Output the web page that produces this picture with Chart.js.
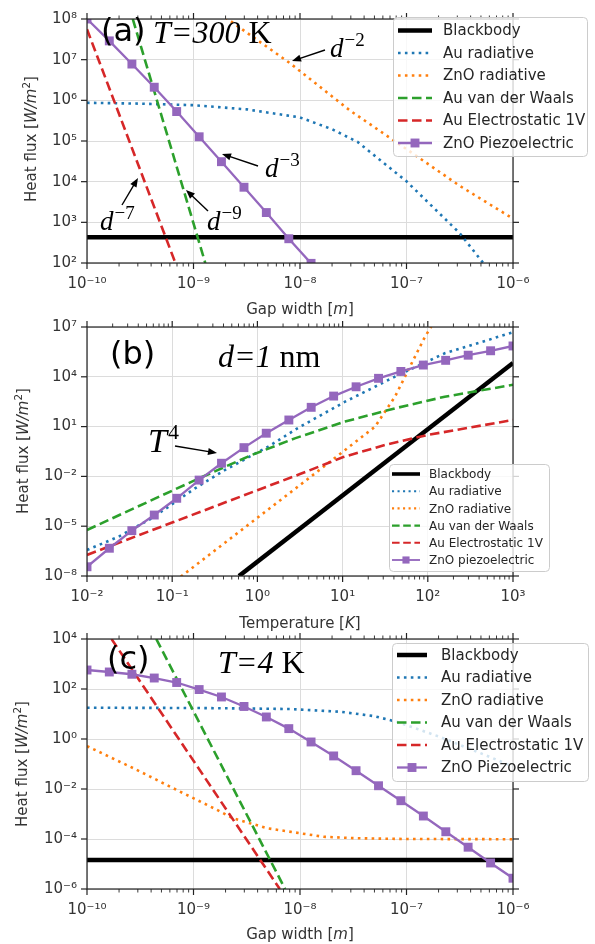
<!DOCTYPE html>
<html>
<head>
<meta charset="utf-8">
<script src="https://cdn.jsdelivr.net/npm/chart.js@4.4.1/dist/chart.umd.min.js"></script>
<style>
  html, body { margin: 0; padding: 0; background: #fff; }
  #wrap { position: relative; width: 595px; height: 944px; }
  canvas { position: absolute; left: 0; top: 0; }
</style>
</head>
<body>
<div id="wrap">
  <canvas id="chart-a" width="595" height="944"></canvas>
  <canvas id="chart-b" width="595" height="944"></canvas>
  <canvas id="chart-c" width="595" height="944"></canvas>
</div>
<script>
// legend entries
const seriesLabels = ['Blackbody', 'Au radiative', 'ZnO radiative', 'Au van der Waals', 'Au Electrostatic 1V', 'ZnO Piezoelectric'];
const seriesLabelsB = ['Blackbody', 'Au radiative', 'ZnO radiative', 'Au van der Waals', 'Au Electrostatic 1V', 'ZnO piezoelectric'];

// shared axes
const gapTicks = [1e-10, 1e-9, 1e-8, 1e-7, 1e-6];
const gapTickLabels = ['10⁻¹⁰', '10⁻⁹', '10⁻⁸', '10⁻⁷', '10⁻⁶'];
const tempTicks = [1e-2, 1e-1, 1, 10, 100, 1000];
const tempTickLabels = ['10⁻²', '10⁻¹', '10⁰', '10¹', '10²', '10³'];

// gap widths / temperatures of the piezoelectric markers
const gapMarks = [1.0e-10, 1.62e-10, 2.64e-10, 4.28e-10, 6.95e-10, 1.13e-9, 1.83e-9, 2.98e-9, 4.83e-9, 7.85e-9,
                  1.27e-8, 2.07e-8, 3.36e-8, 5.46e-8, 8.86e-8, 1.44e-7, 2.34e-7, 3.79e-7, 6.16e-7, 1.0e-6];
const tempMarks = [0.01, 0.0183, 0.0336, 0.0616, 0.113, 0.207, 0.379, 0.695, 1.27, 2.34,
                   4.28, 7.85, 14.4, 26.4, 48.3, 88.6, 162, 298, 546, 1000];

// ---- (a) T = 300 K ----
const aFluxTicks = [1e2, 1e3, 1e4, 1e5, 1e6, 1e7, 1e8];
const aFluxTickLabels = ['10²', '10³', '10⁴', '10⁵', '10⁶', '10⁷', '10⁸'];
const aBlackbodyX = [1e-10, 1e-6];
const aBlackbodyY = [430, 430];
const aAuRadX = [1e-10, 3.16e-10, 1e-9, 3.16e-9, 1e-8, 2e-8, 3.47e-8, 1e-7, 3.16e-7, 5.25e-7, 6.3e-7];
const aAuRadY = [8.7e5, 8.3e5, 7.6e5, 6.0e5, 3.8e5, 1.95e5, 9.5e4, 1.02e4, 540, 100, 50];
const aZnoRadX = [1.58e-9, 2.09e-9, 8.1e-9, 2.95e-8, 1e-7, 3.16e-7, 1e-6];
const aZnoRadY = [1.8e8, 1e8, 8.1e6, 5.6e5, 6.3e4, 7.9e3, 1.23e3];
const aVdwX = [2.69e-10, 1.29e-9];
const aVdwY = [1e8, 100];
const aElecX = [1e-10, 6.76e-10];
const aElecY = [5.6e7, 100];
const aPiezoY = [1e8, 2.9e7, 7.8e6, 2.1e6, 5.3e5, 1.27e5, 3.1e4, 7.3e3, 1.74e3, 395, 98, 23];

// ---- (b) d = 1 nm ----
const bFluxTicks = [1e-8, 1e-5, 1e-2, 1e1, 1e4, 1e7];
const bFluxTickLabels = ['10⁻⁸', '10⁻⁵', '10⁻²', '10¹', '10⁴', '10⁷'];
const bBlackbodyX = [0.608, 1000];
const bBlackbodyY = [1e-8, 6.8e4];
const bAuRadX = [0.01, 0.0233, 0.0575, 0.185, 0.417, 1.34, 2.95, 10.7, 41.2, 158, 1000];
const bAuRadY = [3.7e-7, 2.3e-6, 3.0e-5, 1.9e-3, 0.0245, 0.62, 7.9, 316, 1.02e4, 2.6e5, 4.8e6];
const bZnoRadX = [0.126, 3.16, 10.7, 24, 41.2, 64.6, 92.7, 112];
const bZnoRadY = [9.1e-9, 3.0e-3, 0.39, 9.8, 631, 6.5e4, 2.6e6, 1.26e7];
const bVdwX = [0.01, 0.186, 0.857, 2.75, 10.7, 41.2, 158, 1000];
const bVdwY = [5.9e-6, 6.0e-3, 0.195, 1.95, 20, 126, 630, 3300];
const bElecX = [0.01, 0.1, 1, 3.16, 10, 31.6, 100, 1000];
const bElecY = [1.86e-7, 1.66e-5, 1.48e-3, 0.0138, 0.141, 0.79, 3.16, 25];
const bPiezoY = [3.6e-8, 4.7e-7, 5.4e-6, 4.7e-5, 4.8e-4, 6.0e-3, 0.062, 0.54, 4.0, 25,
                 145, 690, 2500, 8100, 2.1e4, 5.1e4, 9.8e4, 2.0e5, 3.7e5, 7.2e5];

// ---- (c) T = 4 K ----
const cFluxTicks = [1e-6, 1e-4, 1e-2, 1, 1e2, 1e4];
const cFluxTickLabels = ['10⁻⁶', '10⁻⁴', '10⁻²', '10⁰', '10²', '10⁴'];
const cBlackbodyX = [1e-10, 1e-6];
const cBlackbodyY = [1.45e-5, 1.45e-5];
const cAuRadX = [1e-10, 1e-9, 3.16e-9, 8.1e-9, 2.4e-8, 4.9e-8, 8.1e-8, 2.04e-7, 6.0e-7, 1e-6];
const cAuRadY = [17.8, 17.4, 16.6, 15.8, 12.3, 8.3, 4.9, 1.23, 0.195, 0.079];
const cZnoRadX = [1e-10, 2.72e-10, 7.46e-10, 1.55e-9, 2.34e-9, 4.9e-9, 1e-8, 1.66e-8, 3.4e-8, 1e-7, 1e-6];
const cZnoRadY = [0.52, 0.068, 7.9e-3, 1.7e-3, 6.8e-4, 2.7e-4, 1.7e-4, 1.23e-4, 1.07e-4, 1.0e-4, 9.8e-5];
const cVdwX = [4.47e-10, 7.24e-9];
const cVdwY = [1e4, 1e-6];
const cElecX = [1.7e-10, 6.46e-9];
const cElecY = [1e4, 1e-6];
const cPiezoY = [575, 479, 389, 275, 182, 95, 48, 20, 7.6, 2.6,
                 0.76, 0.21, 0.054, 0.0135, 0.0034, 8.3e-4, 1.95e-4, 4.7e-5, 1.1e-5, 2.7e-6];

const SANS = 'DejaVu Sans';
const SERIF = 'Liberation Serif';

const lineStyles = [
    { borderColor: '#000000', borderWidth: 4.5, pointRadius: 0 },
    { borderColor: '#1f77b4', borderWidth: 2.6, borderDash: [2.6, 4.3], pointRadius: 0 },
    { borderColor: '#ff7f0e', borderWidth: 2.6, borderDash: [2.6, 4.3], pointRadius: 0 },
    { borderColor: '#2ca02c', borderWidth: 2.6, borderDash: [9.5, 4.5], pointRadius: 0 },
    { borderColor: '#d62728', borderWidth: 2.6, borderDash: [9.5, 4.5], pointRadius: 0 },
    { borderColor: '#9467bd', borderWidth: 2.3, pointStyle: 'rect', pointRadius: 6.3,
      pointBackgroundColor: '#9467bd', pointBorderColor: '#9467bd', pointBorderWidth: 0 }
];

function makeSeries(labels, pairs) {
    return pairs.map(([xs, ys], i) => ({
        label: labels[i],
        data: xs.map((x, k) => ({ x: x, y: ys[k] })),
        tension: 0,
        fill: false,
        clip: 0,
        order: 10 - i,
        ...lineStyles[i]
    }));
}

// draw a run of text pieces with different fonts
function drawParts(ctx, parts, x, y, align) {
    let total = 0;
    parts.forEach(p => { ctx.font = p.font; total += ctx.measureText(p.t).width + (p.gap || 0); });
    let cx = align === 'center' ? x - total / 2 : x;
    parts.forEach(p => {
        ctx.font = p.font;
        ctx.fillText(p.t, cx, y + (p.dy || 0));
        cx += ctx.measureText(p.t).width + (p.gap || 0);
    });
}

const framePlugin = {
    id: 'frame',
    afterDatasetsDraw(chart) {
        const { ctx, chartArea: a, scales } = chart;
        const xs = scales.x, ys = scales.y;
        ctx.save();
        ctx.strokeStyle = '#222';
        ctx.lineWidth = 1.2;
        ctx.setLineDash([]);
        ctx.strokeRect(a.left, a.top, a.right - a.left, a.bottom - a.top);
        const seg = (x1, y1, x2, y2) => { ctx.beginPath(); ctx.moveTo(x1, y1); ctx.lineTo(x2, y2); ctx.stroke(); };
        xs.ticks.forEach(t => {
            const p = xs.getPixelForValue(t.value);
            seg(p, a.bottom, p, a.bottom + 6);
            seg(p, a.top, p, a.top - 6);
        });
        ys.ticks.forEach(t => {
            const p = ys.getPixelForValue(t.value);
            seg(a.left, p, a.left - 6, p);
            seg(a.right, p, a.right + 6, p);
        });
        ctx.lineWidth = 0.9;
        const lo = Math.round(Math.log10(xs.min)), hi = Math.round(Math.log10(xs.max));
        for (let d = lo; d < hi; d++) {
            for (let m = 2; m <= 9; m++) {
                const p = xs.getPixelForValue(m * Math.pow(10, d));
                seg(p, a.bottom, p, a.bottom + 3.5);
                seg(p, a.top, p, a.top - 3.5);
            }
        }
        ctx.restore();
    }
};

const notesPlugin = {
    id: 'notes',
    afterDraw(chart, args, opts) {
        const ctx = chart.ctx;
        ctx.save();
        ctx.fillStyle = '#000';
        ctx.textBaseline = 'alphabetic';
        ctx.textAlign = 'left';
        (opts.texts || []).forEach(n => drawParts(ctx, n.parts, n.x, n.y, 'left'));
        (opts.arrows || []).forEach(([x1, y1, x2, y2]) => {
            const ang = Math.atan2(y2 - y1, x2 - x1);
            const hl = 9, hw = 3.6;
            ctx.strokeStyle = '#000';
            ctx.lineWidth = 1.4;
            ctx.beginPath();
            ctx.moveTo(x1, y1);
            ctx.lineTo(x2 - hl * 0.6 * Math.cos(ang), y2 - hl * 0.6 * Math.sin(ang));
            ctx.stroke();
            ctx.beginPath();
            ctx.moveTo(x2, y2);
            ctx.lineTo(x2 - hl * Math.cos(ang) + hw * Math.sin(ang), y2 - hl * Math.sin(ang) - hw * Math.cos(ang));
            ctx.lineTo(x2 - hl * Math.cos(ang) - hw * Math.sin(ang), y2 - hl * Math.sin(ang) + hw * Math.cos(ang));
            ctx.closePath();
            ctx.fill();
        });
        // axis titles
        ctx.fillStyle = '#333';
        if (opts.xTitle) drawParts(ctx, opts.xTitle.parts, opts.xTitle.x, opts.xTitle.y, 'center');
        if (opts.yTitle) {
            ctx.save();
            ctx.translate(opts.yTitle.x, opts.yTitle.y);
            ctx.rotate(-Math.PI / 2);
            drawParts(ctx, opts.yTitle.parts, 0, 0, 'center');
            ctx.restore();
        }
        ctx.restore();
    }
};

const boxLegendPlugin = {
    id: 'boxLegend',
    afterDraw(chart, args, opts) {
        const ctx = chart.ctx;
        const b = opts.box;
        ctx.save();
        ctx.fillStyle = 'rgba(255,255,255,0.8)';
        ctx.strokeStyle = '#cccccc';
        ctx.lineWidth = 1;
        ctx.beginPath();
        ctx.roundRect(b.x + 0.5, b.y + 0.5, b.w, b.h, 4);
        ctx.fill();
        ctx.stroke();
        ctx.font = opts.font;
        ctx.textBaseline = 'middle';
        ctx.textAlign = 'left';
        chart.data.datasets.forEach((ds, i) => {
            const yy = opts.rowY0 + i * opts.rowGap;
            const s = opts.scale;
            ctx.strokeStyle = ds.borderColor;
            ctx.lineWidth = ds.borderWidth * s;
            ctx.setLineDash((ds.borderDash || []).map(v => v * s));
            ctx.beginPath();
            ctx.moveTo(opts.lineX0, yy);
            ctx.lineTo(opts.lineX1, yy);
            ctx.stroke();
            if (ds.pointStyle === 'rect') {
                const side = ds.pointRadius * 1.414 * s;
                ctx.fillStyle = ds.pointBackgroundColor;
                ctx.fillRect((opts.lineX0 + opts.lineX1) / 2 - side / 2, yy - side / 2, side, side);
            }
            ctx.fillStyle = '#262626';
            ctx.fillText(ds.label, opts.textX, yy + 1);
        });
        ctx.restore();
    }
};

function makeScale(ticks, labels, min, max, fixed, isX, padding) {
    return {
        type: 'logarithmic',
        min: min,
        max: max,
        bounds: 'data',
        afterBuildTicks: s => { s.ticks = ticks.map(v => ({ value: v })); },
        afterFit: s => { if (isX) s.height = fixed; else s.width = fixed; },
        grid: { color: '#dcdcdc', lineWidth: 1, drawTicks: false },
        border: { display: false },
        ticks: {
            autoSkip: false, maxRotation: 0, minRotation: 0, padding: padding,
            color: '#333', font: { family: SANS, size: 15 },
            callback: (v, i) => labels[i]
        }
    };
}

function makeChart(id, area, xScale, yScale, datasets, plugins) {
    return new Chart(document.getElementById(id), {
        type: 'line',
        data: { datasets: datasets },
        options: {
            responsive: false,
            animation: false,
            events: [],
            layout: { padding: { left: 0, right: 595 - area.right, top: area.top, bottom: 944 - area.bottom - 40 } },
            plugins: { legend: { display: false }, tooltip: { enabled: false }, ...plugins },
            scales: { x: xScale, y: yScale }
        },
        plugins: [framePlugin, notesPlugin, boxLegendPlugin]
    });
}

const yTitleParts = [
    { t: 'Heat flux [', font: `15px ${SANS}` },
    { t: 'W/m', font: `italic 15px ${SANS}` },
    { t: '2', font: `10.5px ${SANS}`, dy: -6 },
    { t: ']', font: `15px ${SANS}` }
];
const gapTitleParts = [
    { t: 'Gap width [', font: `15px ${SANS}` },
    { t: 'm', font: `italic 15px ${SANS}` },
    { t: ']', font: `15px ${SANS}` }
];
const tempTitleParts = [
    { t: 'Temperature [', font: `15px ${SANS}` },
    { t: 'K', font: `italic 15px ${SANS}` },
    { t: ']', font: `15px ${SANS}` }
];
const dPower = (x, y, sup) => ({
    x: x, y: y,
    parts: [
        { t: 'd', font: `italic 27px ${SERIF}`, gap: 1 },
        { t: sup, font: `19px ${SERIF}`, dy: -11 }
    ]
});

// panel (a)
makeChart('chart-a', { top: 15, bottom: 263, right: 513 },
    makeScale(gapTicks, gapTickLabels, 1e-10, 1e-6, 40, true, 12),
    makeScale(aFluxTicks, aFluxTickLabels, 1e2, 1e8, 87, false, 10),
    makeSeries(seriesLabels, [
        [aBlackbodyX, aBlackbodyY], [aAuRadX, aAuRadY], [aZnoRadX, aZnoRadY],
        [aVdwX, aVdwY], [aElecX, aElecY], [gapMarks.slice(0, aPiezoY.length), aPiezoY]
    ]),
    {
        notes: {
            texts: [
                { x: 101, y: 41, parts: [{ t: '(a)', font: `32px ${SANS}` }] },
                { x: 153, y: 43, parts: [{ t: 'T=300', font: `italic 32px ${SERIF}` }, { t: ' K', font: `32px ${SERIF}` }] },
                dPower(330, 57, '−2'),
                dPower(265, 177, '−3'),
                dPower(100, 230, '−7'),
                dPower(207, 230, '−9')
            ],
            arrows: [[325, 50, 292, 61], [258, 166, 222, 154], [122, 205, 138, 178], [208, 211, 186, 190]],
            xTitle: { x: 300, y: 314, parts: gapTitleParts },
            yTitle: { x: 36, y: 139, parts: yTitleParts }
        },
        boxLegend: { box: { x: 393, y: 17, w: 194, h: 139 }, rowY0: 30.5, rowGap: 22.5, lineX0: 398, lineX1: 432, textX: 443, font: `15px ${SANS}`, scale: 1 }
    });

// panel (b)
makeChart('chart-b', { top: 327, bottom: 576, right: 513 },
    makeScale(tempTicks, tempTickLabels, 1e-2, 1e3, 40, true, 12),
    makeScale(bFluxTicks, bFluxTickLabels, 1e-8, 1e7, 87, false, 10),
    makeSeries(seriesLabelsB, [
        [bBlackbodyX, bBlackbodyY], [bAuRadX, bAuRadY], [bZnoRadX, bZnoRadY],
        [bVdwX, bVdwY], [bElecX, bElecY], [tempMarks, bPiezoY]
    ]),
    {
        notes: {
            texts: [
                { x: 110, y: 364, parts: [{ t: '(b)', font: `32px ${SANS}` }] },
                { x: 218, y: 367, parts: [{ t: 'd=1', font: `italic 32px ${SERIF}` }, { t: ' nm', font: `32px ${SERIF}` }] },
                { x: 148, y: 452, parts: [{ t: 'T', font: `italic 34px ${SERIF}`, gap: 1 }, { t: '4', font: `22px ${SERIF}`, dy: -13 }] }
            ],
            arrows: [[175, 446, 217, 453]],
            xTitle: { x: 300, y: 628, parts: tempTitleParts },
            yTitle: { x: 28, y: 451, parts: yTitleParts }
        },
        boxLegend: { box: { x: 389, y: 464, w: 160, h: 107 }, rowY0: 474, rowGap: 17.2, lineX0: 392, lineX1: 420, textX: 429, font: `12px ${SANS}`, scale: 0.8 }
    });

// panel (c)
makeChart('chart-c', { top: 639, bottom: 889, right: 513 },
    makeScale(gapTicks, gapTickLabels, 1e-10, 1e-6, 40, true, 12),
    makeScale(cFluxTicks, cFluxTickLabels, 1e-6, 1e4, 87, false, 10),
    makeSeries(seriesLabels, [
        [cBlackbodyX, cBlackbodyY], [cAuRadX, cAuRadY], [cZnoRadX, cZnoRadY],
        [cVdwX, cVdwY], [cElecX, cElecY], [gapMarks, cPiezoY]
    ]),
    {
        notes: {
            texts: [
                { x: 107, y: 669, parts: [{ t: '(c)', font: `32px ${SANS}` }] },
                { x: 218, y: 673, parts: [{ t: 'T=4', font: `italic 32px ${SERIF}` }, { t: ' K', font: `32px ${SERIF}` }] }
            ],
            arrows: [],
            xTitle: { x: 300, y: 939, parts: gapTitleParts },
            yTitle: { x: 27, y: 764, parts: yTitleParts }
        },
        boxLegend: { box: { x: 392, y: 643, w: 196, h: 138 }, rowY0: 655, rowGap: 22.5, lineX0: 397, lineX1: 427, textX: 441, font: `15px ${SANS}`, scale: 1 }
    });
</script>
</body>
</html>
